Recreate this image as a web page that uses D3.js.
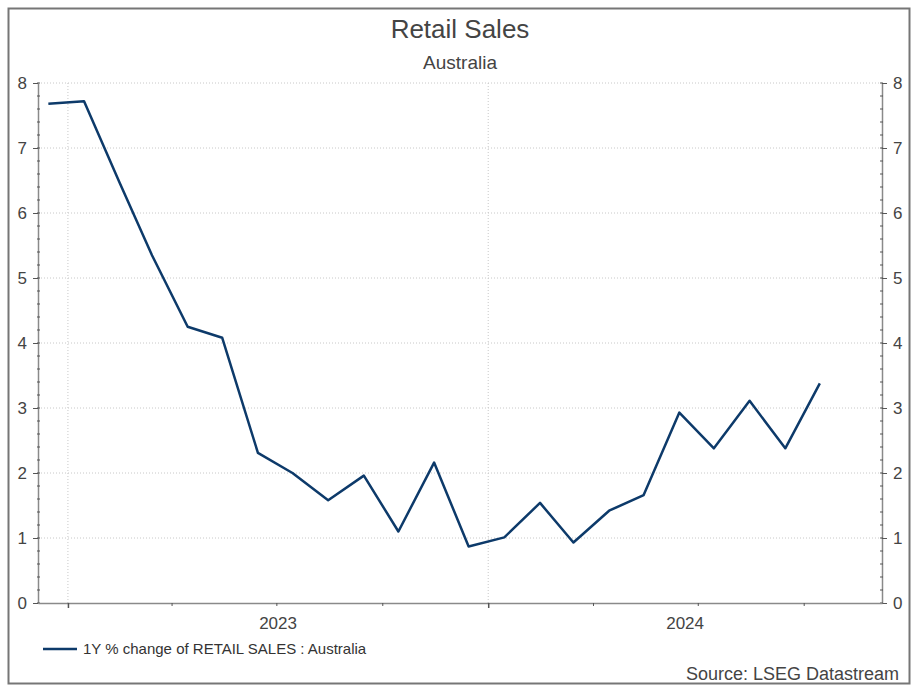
<!DOCTYPE html>
<html>
<head>
<meta charset="utf-8">
<script src="https://cdn.jsdelivr.net/npm/d3@7"></script>
<style>
  body { margin: 0; background: #fff; }
  text { font-family: "Liberation Sans", Arial, sans-serif; }
</style>
</head>
<body>
<script>
// monthly observations, Dec 2022 .. Oct 2024
var months = ["2022-12", "2023-01", "2023-02", "2023-03", "2023-04", "2023-05", "2023-06",
  "2023-07", "2023-08", "2023-09", "2023-10", "2023-11", "2023-12",
  "2024-01", "2024-02", "2024-03", "2024-04", "2024-05", "2024-06",
  "2024-07", "2024-08", "2024-09", "2024-10"];
var values = [7.68, 7.72, 6.46, 5.35, 4.25, 4.08, 2.31,
  2.0, 1.58, 1.96, 1.10, 2.16, 0.87,
  1.01, 1.54, 0.93, 1.42, 1.66, 2.93,
  2.38, 3.11, 2.38, 3.38];
var yTicks = [0, 1, 2, 3, 4, 5, 6, 7, 8];
var yearLabels = ["2023", "2024"];

var width = 923, height = 698;
var padL = 38, padR = 882, padT = 83, padB = 603;

var parse = d3.timeParse("%Y-%m-%d");
var data = months.map(function(m, i) { return { date: parse(m + "-15"), value: values[i] }; });

var svg = d3.select("body").append("svg").attr("width", width).attr("height", height);

// outer frame
svg.append("rect")
  .attr("x", 8.5).attr("y", 8.5).attr("width", 901).attr("height", 675)
  .attr("fill", "#fff").attr("stroke", "#767676").attr("stroke-width", 2);

var x = d3.scaleTime()
  .domain([parse("2022-12-06"), parse("2024-12-08")])
  .range([padL, padR]);

var y = d3.scaleLinear()
  .domain([0, 8])
  .range([padB, padT]);

// grid
svg.append("g").selectAll("line")
  .data(yTicks.slice(1))
  .enter().append("line")
  .attr("x1", padL).attr("x2", padR)
  .attr("y1", function(d) { return y(d); })
  .attr("y2", function(d) { return y(d); })
  .attr("stroke", "#c8c8c8").attr("stroke-dasharray", "1,2");

var years = yearLabels.map(function(s) { return parse(s + "-01-01"); });
svg.append("g").selectAll("line")
  .data(years)
  .enter().append("line")
  .attr("x1", function(d) { return x(d); })
  .attr("x2", function(d) { return x(d); })
  .attr("y1", padT).attr("y2", padB)
  .attr("stroke", "#c8c8c8").attr("stroke-dasharray", "1,2");

// y axes with minor ticks
function yAxis(g, side) {
  var minor = d3.range(0, 8.01, 0.2);
  var ax = side == "left" ? d3.axisLeft(y) : d3.axisRight(y);
  g.call(ax.tickValues(yTicks).tickSize(5).tickSizeOuter(0).tickPadding(6).tickFormat(d3.format("d")));
  g.select(".domain").attr("stroke", "#8a8a8a").attr("stroke-width", 1.5);
  g.selectAll(".tick line").attr("stroke", "#555");
  g.selectAll(".tick text").attr("fill", "#444").style("font-size", "17px");
  g.selectAll(".minor")
    .data(minor)
    .enter().append("line")
    .attr("class", "minor")
    .attr("x1", side == "left" ? -1 : -2).attr("x2", side == "left" ? 2 : 1)
    .attr("y1", function(d) { return y(d); })
    .attr("y2", function(d) { return y(d); })
    .attr("stroke", "#555");
}
svg.append("g").attr("transform", "translate(" + padL + ",0)").call(yAxis, "left");
svg.append("g").attr("transform", "translate(" + padR + ",0)").call(yAxis, "right");

// x axis, quarterly ticks
var xg = svg.append("g").attr("transform", "translate(0," + padB + ")");
xg.call(d3.axisBottom(x).ticks(d3.timeMonth.every(3)).tickSize(4).tickSizeOuter(0).tickFormat(""));
xg.select(".domain").attr("stroke", "#8a8a8a").attr("stroke-width", 1.5);
xg.selectAll(".tick line").attr("stroke", "#555").attr("stroke-width", function(d) {
  return d.getMonth() == 0 ? 1.5 : 1;
}).attr("y2", function(d) { return d.getMonth() == 0 ? 5 : 3; });

// year labels centred on the visible part of each year
svg.append("g").selectAll("text")
  .data(years)
  .enter().append("text")
  .attr("x", function(d) {
    var a = Math.max(x(d), padL), b = Math.min(x(d3.timeYear.offset(d, 1)), padR);
    return (a + b) / 2;
  })
  .attr("y", 629)
  .attr("text-anchor", "middle")
  .attr("fill", "#444").style("font-size", "17px")
  .text(function(d) { return d.getFullYear(); });

// series
var line = d3.line()
  .x(function(d) { return x(d.date); })
  .y(function(d) { return y(d.value); });

svg.append("path")
  .datum(data)
  .attr("d", line)
  .attr("fill", "none")
  .attr("stroke", "#0d3a6a")
  .attr("stroke-width", 2.5)
  .attr("stroke-linejoin", "round");

// titles
svg.append("text").attr("x", 460).attr("y", 38).attr("text-anchor", "middle")
  .attr("fill", "#444").style("font-size", "26px").text("Retail Sales");
svg.append("text").attr("x", 460).attr("y", 69).attr("text-anchor", "middle")
  .attr("fill", "#444").style("font-size", "19px").text("Australia");

// legend
svg.append("line").attr("x1", 43).attr("x2", 77).attr("y1", 649).attr("y2", 649)
  .attr("stroke", "#0d3a6a").attr("stroke-width", 2.5);
svg.append("text").attr("x", 83).attr("y", 654)
  .attr("fill", "#333").style("font-size", "15px").text("1Y % change of RETAIL SALES : Australia");

svg.append("text").attr("x", 899).attr("y", 680).attr("text-anchor", "end")
  .attr("fill", "#444").style("font-size", "18px").text("Source: LSEG Datastream");
</script>
</body>
</html>
